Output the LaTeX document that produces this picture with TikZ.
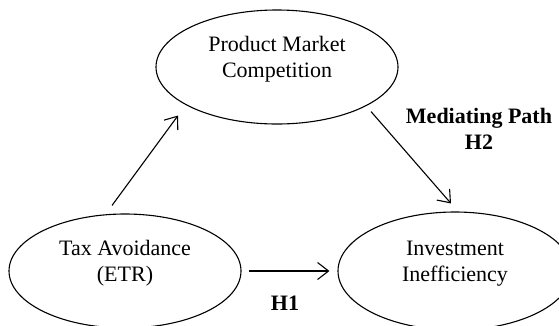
\documentclass[tikz,border=0pt]{standalone}
\usepackage{fontspec}
\setmainfont{Liberation Serif}
\usetikzlibrary{shapes.geometric,arrows.meta}

\tikzset{
    var/.style={ellipse,draw,line width=1.1pt,inner sep=0pt,align=center,
        minimum width=234pt,minimum height=114pt,text depth=20pt},
    arr/.style={line width=1.1pt,-{Straight Barb[length=11pt,width=17pt,line width=1.1pt]}},
    hyp/.style={font=\fontsize{22}{26}\selectfont\bfseries,align=center}
}

\begin{document}
\begin{tikzpicture}[x=1pt,y=-1pt,font=\fontsize{22}{26}\selectfont]
    \useasboundingbox (0,0) rectangle (559,325);
    \node[var,minimum width=242pt] (pmc) at (277,67) {Product Market\\Competition};
    \node[var,minimum width=232pt] (tax) at (125,271) {Tax Avoidance\\(ETR)};
    \node[var,minimum height=118pt] (inv) at (455,271) {Investment\\Inefficiency};
    % paths
    \draw[arr] ([shift={(-13pt,8pt)}]tax.north) -- ([shift={(-99pt,9pt)}]pmc.south);
    \draw[arr] ([shift={(94pt,13pt)}]pmc.south) -- ([shift={(-4pt,8pt)}]inv.north);
    \draw[arr] ([xshift=7pt]tax.east) -- ([xshift=-8pt]inv.west);
    \node[hyp] (h1) at (285,303) {H1};
    \node[hyp] (h2) at (479,129) {Mediating Path\\H2};
\end{tikzpicture}
\end{document}
